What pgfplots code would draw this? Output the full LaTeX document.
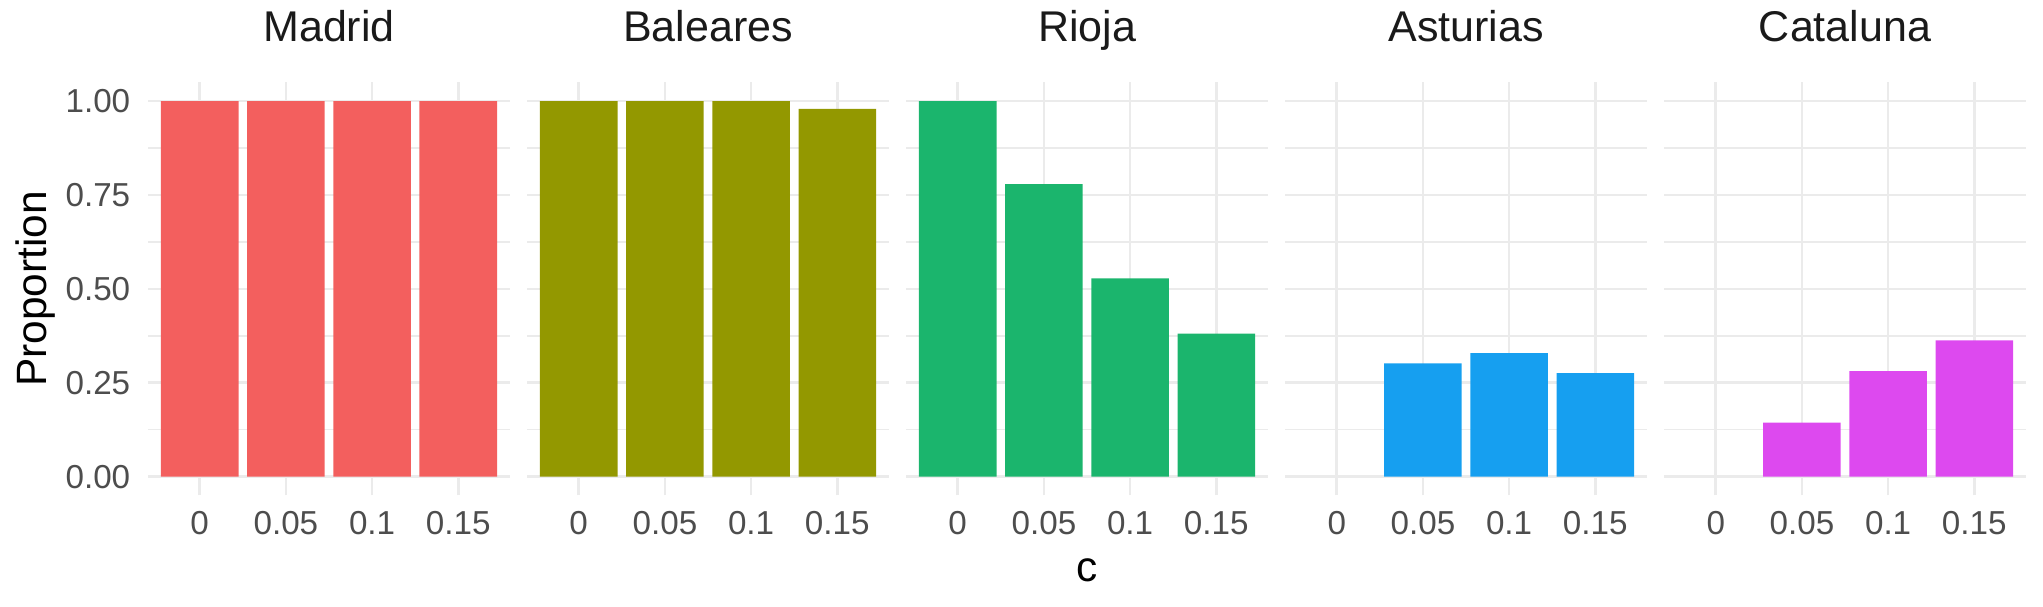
\documentclass[border=0pt]{standalone}
\usepackage{pgfplots}
\pgfplotsset{compat=1.18}
\usepackage{fontspec}
\setmainfont{Liberation Sans}
\definecolor{cMad}{HTML}{F35F5E}
\definecolor{cBal}{HTML}{939800}
\definecolor{cRio}{HTML}{1BB56D}
\definecolor{cAst}{HTML}{169FF0}
\definecolor{cCat}{HTML}{DD49EF}
\definecolor{gridc}{HTML}{EBEBEB}
\definecolor{tickc}{HTML}{4D4D4D}
\definecolor{stripc}{HTML}{1A1A1A}
\pgfplotsset{
  panel/.style={
    scale only axis, width=90.5pt, height=103.3pt,
    anchor=south west,
    xmin=0.4, xmax=4.6, ymin=-0.05, ymax=1.05,
    xtick={1,2,3,4}, xticklabels={0,0.05,0.1,0.15},
    ytick={0,0.25,0.5,0.75,1},
    minor ytick={0.125,0.375,0.625,0.875},
    xmajorgrids, ymajorgrids, yminorgrids,
    major grid style={draw=gridc, line width=0.67pt},
    minor grid style={draw=gridc, line width=0.34pt},
    axis line style={draw=none},
    major tick length=0pt, minor tick length=0pt,
    tick style={draw=none},
    xticklabel style={font=\fontsize{8.3}{10}\selectfont, text=tickc, anchor=base, yshift=-9.875pt, inner sep=0pt},
    yticklabel style={font=\fontsize{8.3}{10}\selectfont, text=tickc, anchor=east, inner sep=0pt, xshift=-4.25pt},
    title style={font=\fontsize{10.75}{12.9}\selectfont, text=stripc, at={(axis description cs:0.5,1)}, anchor=base, yshift=4.3pt, inner sep=0pt},
    ybar, bar width=0.9,
  }
}
\begin{document}
\begin{tikzpicture}
\useasboundingbox (0pt,0pt) rectangle (510.75pt,151.75pt);
\begin{axis}[panel, at={(37pt,27.875pt)}, title={Madrid},
  yticklabels={0.00,0.25,0.50,0.75,1.00},
  ylabel={Proportion},
  ylabel style={font=\fontsize{10.6}{12.7}\selectfont, text=black, at={(axis description cs:-0.279,0.5)}, anchor=base}]
\addplot[fill=cMad, draw=none] coordinates {(1,1) (2,1) (3,1) (4,1)};
\end{axis}
\begin{axis}[panel, at={(131.75pt,27.875pt)}, title={Baleares}, yticklabels={,,,,}]
\addplot[fill=cBal, draw=none] coordinates {(1,1) (2,1) (3,1) (4,0.979)};
\end{axis}
\begin{axis}[panel, at={(226.5pt,27.875pt)}, title={Rioja}, yticklabels={,,,,},
  xlabel={c},
  xlabel style={font=\fontsize{10.6}{12.7}\selectfont, text=black, at={(axis description cs:0.5,-0.2086)}, anchor=base}]
\addplot[fill=cRio, draw=none] coordinates {(1,1) (2,0.779) (3,0.528) (4,0.381)};
\end{axis}
\begin{axis}[panel, at={(321.25pt,27.875pt)}, title={Asturias}, yticklabels={,,,,}]
\addplot[fill=cAst, draw=none] coordinates {(2,0.302) (3,0.329) (4,0.276)};
\end{axis}
\begin{axis}[panel, at={(416pt,27.875pt)}, title={Cataluna}, yticklabels={,,,,}]
\addplot[fill=cCat, draw=none] coordinates {(2,0.144) (3,0.281) (4,0.363)};
\end{axis}
\end{tikzpicture}
\end{document}
